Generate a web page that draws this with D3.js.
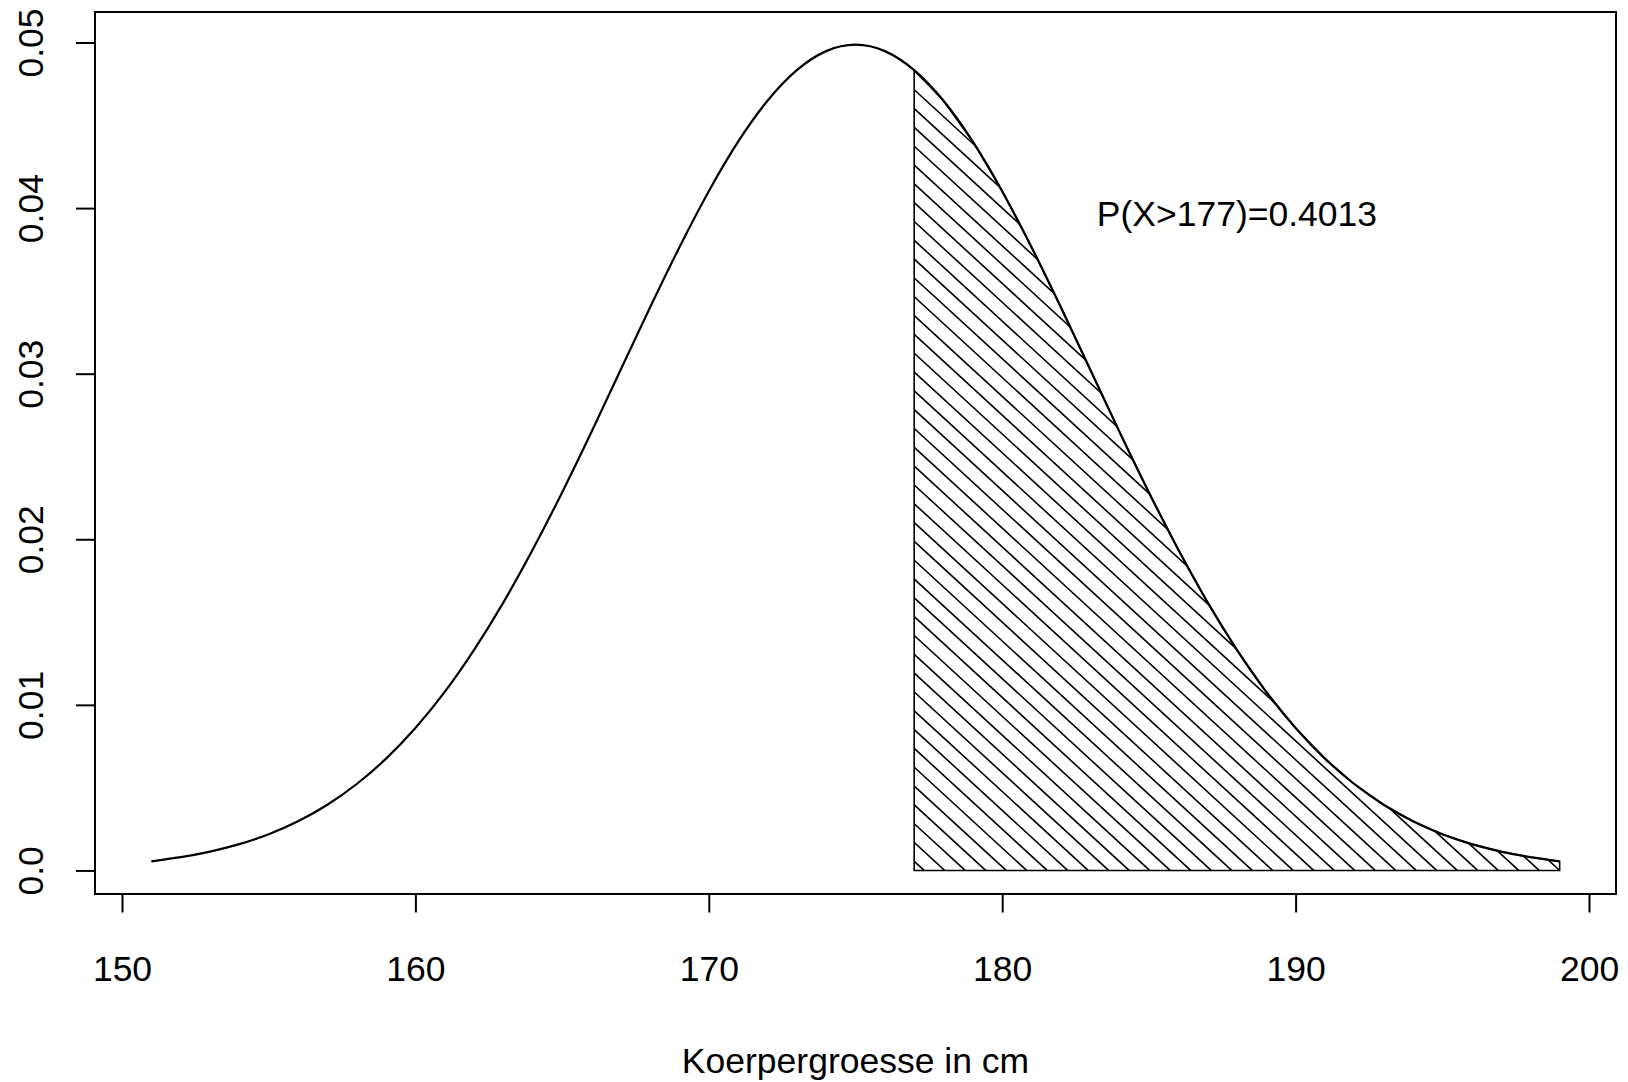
<!DOCTYPE html>
<html>
<head>
<meta charset="utf-8">
<script src="https://cdn.jsdelivr.net/npm/d3@7"></script>
<style>
    body { margin: 0; background: #fff; }
    text { font-family: "Liberation Sans", Arial, sans-serif; fill: #000; }
</style>
</head>
<body>
<div id="chart"></div>
<script>

// height in cm (x) and density values
const heights = d3.range(151, 200);
const density = [
    0.00055, 0.00080, 0.00114, 0.00159, 0.00219, 0.00297, 0.00397, 0.00522, 0.00675, 0.00860,
    0.01078, 0.01332, 0.01619, 0.01938, 0.02283, 0.02648, 0.03025, 0.03401, 0.03764, 0.04102,
    0.04401, 0.04648, 0.04833, 0.04948, 0.04987, 0.04948, 0.04833, 0.04648, 0.04401, 0.04102,
    0.03764, 0.03401, 0.03025, 0.02648, 0.02283, 0.01938, 0.01619, 0.01332, 0.01078, 0.00860,
    0.00675, 0.00522, 0.00397, 0.00297, 0.00219, 0.00159, 0.00114, 0.00080, 0.00055
];

const cutoff = 177;
const xTicks = [150, 160, 170, 180, 190, 200];
const yTicks = [0, 0.01, 0.02, 0.03, 0.04, 0.05];
const yTickLabels = ["0.0", "0.01", "0.02", "0.03", "0.04", "0.05"];
const xTitle = "Koerpergroesse in cm";
const annotation = {x: 188, y: 0.04, text: "P(X>177)=0.4013"};

const points = heights.map((h, i) => ({x: h, y: density[i]}));

let margin = {top: 12, right: 12, bottom: 188, left: 95};
let width = 1628 - margin.left - margin.right;
let height = 1082 - margin.top - margin.bottom;

let svg = d3.select("#chart").append("svg")
    .attr("width", 1628)
    .attr("height", 1082)
    .append("g")
    .attr("transform", `translate(${margin.left},${margin.top})`);

// R style 4% extension of the data range
function pad(ext) {
    let d = (ext[1] - ext[0]) * 0.04;
    return [ext[0] - d, ext[1] + d];
}

let x = d3.scaleLinear()
    .domain(pad(d3.extent(heights)))
    .range([0, width]);

let y = d3.scaleLinear()
    .domain(pad(d3.extent(density)))
    .range([height, 0]);

// shaded tail polygon
let tail = points.filter(d => d.x >= cutoff);
let polyPts = [{x: cutoff, y: 0}, ...tail, {x: tail[tail.length - 1].x, y: 0}];
let poly = d3.line().x(d => x(d.x)).y(d => y(d.y));

svg.append("clipPath")
    .attr("id", "tailClip")
    .append("path")
    .attr("d", poly(polyPts) + "Z");

// hatching lines (down to the right), anchored at the right corner
let slope = 0.918;
let spacing = 20.5;
let x0 = x(cutoff), x1 = x(tail[tail.length - 1].x);
let yTop = y(d3.max(tail, d => d.y)) - 10, yBase = y(0);
let reach = (yBase - yTop) / slope;
let hatchStarts = d3.range(x1 + Math.ceil(reach / spacing + 1) * spacing, x0 - spacing, -spacing);

svg.append("g")
    .attr("clip-path", "url(#tailClip)")
    .selectAll("line")
    .data(hatchStarts)
    .join("line")
    .attr("x1", d => d)
    .attr("y1", yBase)
    .attr("x2", d => d - reach)
    .attr("y2", yTop)
    .attr("stroke", "#000")
    .attr("stroke-width", 1.6);

svg.append("path")
    .attr("d", poly(polyPts) + "Z")
    .attr("fill", "none")
    .attr("stroke", "#000")
    .attr("stroke-width", 1.6);

// density curve
let curve = d3.line()
    .x(d => x(d.x))
    .y(d => y(d.y))
    .curve(d3.curveNatural);

svg.append("path")
    .datum(points)
    .attr("d", curve)
    .attr("fill", "none")
    .attr("stroke", "#000")
    .attr("stroke-width", 2.2);

// box
svg.append("rect")
    .attr("x", 0)
    .attr("y", 0)
    .attr("width", width)
    .attr("height", height)
    .attr("fill", "none")
    .attr("stroke", "#000")
    .attr("stroke-width", 2);

// axes
let xAxis = svg.append("g")
    .attr("transform", `translate(0,${height})`)
    .call(d3.axisBottom(x).tickValues(xTicks).tickFormat(d3.format("d")).tickSize(18.5).tickSizeOuter(0));

xAxis.select(".domain").remove();
xAxis.selectAll("line").attr("stroke-width", 2);
xAxis.selectAll("text")
    .attr("y", 86.5)
    .attr("dy", null)
    .style("font-size", "35.5px")
    .style("font-family", "'Liberation Sans', Arial, sans-serif");

let yAxis = svg.append("g")
    .call(d3.axisLeft(y).tickValues(yTicks).tickFormat((d, i) => yTickLabels[i]).tickSize(19).tickSizeOuter(0));

yAxis.select(".domain").remove();
yAxis.selectAll("line").attr("stroke-width", 2);
yAxis.selectAll("text")
    .attr("transform", "rotate(-90)")
    .attr("x", 0)
    .attr("y", -52)
    .attr("dy", null)
    .attr("text-anchor", "middle")
    .style("font-size", "35.5px")
    .style("font-family", "'Liberation Sans', Arial, sans-serif");

// labels
svg.append("text")
    .attr("x", width / 2)
    .attr("y", 1073 - margin.top)
    .attr("text-anchor", "middle")
    .style("font-size", "35.5px")
    .text(xTitle);

svg.append("text")
    .attr("x", x(annotation.x))
    .attr("y", y(annotation.y) + 18)
    .attr("text-anchor", "middle")
    .style("font-size", "35.5px")
    .text(annotation.text);

</script>
</body>
</html>
